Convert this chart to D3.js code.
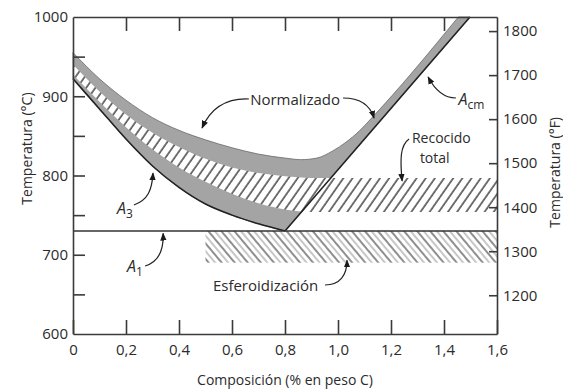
<!DOCTYPE html>
<html>
<head>
<meta charset="utf-8">
<script src="https://cdn.jsdelivr.net/npm/d3@7"></script>
<style>
  body { margin: 0; background: #fff; }
  text { font-family: "Open Sans", sans-serif; fill: #2b2b2b; }
  .axis path, .axis line { stroke: #3a3a3a; stroke-width: 1.6; }
  .axis text { font-size: 15px; fill: #2b2b2b; }
</style>
</head>
<body>
<script>
// composition (% C) vs temperature (°C) curves
const compTicks = [0, 0.2, 0.4, 0.6, 0.8, 1.0, 1.2, 1.4, 1.6];
const tempTicksC = [600, 650, 700, 750, 800, 850, 900, 950, 1000];
const tempTicksF = [1200, 1300, 1400, 1500, 1600, 1700, 1800];

const a3Line = [[0, 922], [0.1, 884], [0.2, 846], [0.3, 812], [0.4, 785], [0.5, 764], [0.6, 750], [0.7, 739], [0.8, 730]];
const acmLine = [[0.8, 730], [1.498, 1000]];
const a1Temp = 730;

// full anneal band (lower / upper edge)
const annealLow = [[0, 927], [0.1, 893], [0.2, 861], [0.3, 833], [0.4, 810], [0.5, 792], [0.6, 777], [0.7, 765], [0.8, 757], [0.9, 754], [1.6, 754]];
const annealHigh = [[0, 940], [0.1, 906], [0.2, 877], [0.3, 854], [0.4, 836], [0.5, 821], [0.6, 810], [0.7, 803], [0.8, 799], [0.9, 797], [1.6, 797]];
// normalizing band upper edge
const normTop = [[0, 955], [0.1, 922], [0.2, 895], [0.3, 873], [0.4, 857], [0.5, 845], [0.6, 835], [0.7, 827], [0.8, 822], [0.86, 820], [0.92, 822], [0.98, 831], [1.03, 842], [1.08, 856], [1.12, 870], [1.454, 1000]];

// spheroidizing band
const spheroComp = [0.5, 1.6];
const spheroTemp = [690, 730];

const width = 563, height = 389;
const margin = {top: 17, right: 66, bottom: 55, left: 73};

const svg = d3.select("body").append("svg")
  .attr("width", width)
  .attr("height", height);

const x = d3.scaleLinear().domain([0, 1.6]).range([margin.left, width - margin.right]);
const y = d3.scaleLinear().domain([600, 1000]).range([height - margin.bottom, margin.top]);
const toF = c => c * 9 / 5 + 32;
const yF = d3.scaleLinear().domain([toF(600), toF(1000)]).range(y.range());

const defs = svg.append("defs");

defs.append("pattern")
  .attr("id", "hatchAnneal")
  .attr("patternUnits", "userSpaceOnUse")
  .attr("width", 7.5).attr("height", 7.5)
  .attr("patternTransform", "rotate(35)")
  .call(p => {
    p.append("rect").attr("width", 7.5).attr("height", 7.5).attr("fill", "#fff");
    p.append("line").attr("x1", 1).attr("x2", 1).attr("y1", 0).attr("y2", 7.5)
      .attr("stroke", "#3a3a3a").attr("stroke-width", 1.4);
  });

defs.append("pattern")
  .attr("id", "hatchSphero")
  .attr("patternUnits", "userSpaceOnUse")
  .attr("width", 10).attr("height", 10)
  .attr("patternTransform", "rotate(-40)")
  .call(p => {
    p.append("rect").attr("width", 10).attr("height", 10).attr("fill", "#fff");
    p.append("line").attr("x1", 1).attr("x2", 1).attr("y1", 0).attr("y2", 10)
      .attr("stroke", "#444").attr("stroke-width", 1.2);
    p.append("line").attr("x1", 6).attr("x2", 6).attr("y1", 0).attr("y2", 10)
      .attr("stroke", "#999").attr("stroke-width", 1.1);
  });

defs.append("marker")
  .attr("id", "arrow")
  .attr("viewBox", "0 0 10 10")
  .attr("refX", 9).attr("refY", 5)
  .attr("markerUnits", "userSpaceOnUse")
  .attr("markerWidth", 8).attr("markerHeight", 8)
  .attr("orient", "auto")
  .append("path")
  .attr("d", "M0,1 L10,5 L0,9 Z")
  .attr("fill", "#1a1a1a");

const line = d3.line().x(d => x(d[0])).y(d => y(d[1])).curve(d3.curveMonotoneX);

// gray region: normalizing band + everything down to A3, bounded by Acm
const grayPath = line(normTop) + "L" + acmLine.slice().reverse().map(d => x(d[0]) + "," + y(d[1])).join("L")
  + "L" + line(a3Line.slice().reverse()).slice(1) + "Z";
svg.append("path")
  .attr("d", grayPath)
  .attr("fill", "#a4a4a4")
  .attr("stroke", "#6a6a6a")
  .attr("stroke-width", 0.8);

// full anneal (hatched) band
const bandArea = d3.area()
  .x(d => x(d[0]))
  .y0(d => y(d[1]))
  .y1((d, i) => y(annealHigh[i][1]))
  .curve(d3.curveMonotoneX);
svg.append("path")
  .attr("d", bandArea(annealLow))
  .attr("fill", "url(#hatchAnneal)");

// spheroidizing band
svg.append("rect")
  .attr("x", x(spheroComp[0]))
  .attr("y", y(spheroTemp[1]))
  .attr("width", x(spheroComp[1]) - x(spheroComp[0]))
  .attr("height", y(spheroTemp[0]) - y(spheroTemp[1]))
  .attr("fill", "url(#hatchSphero)");

// A3, Acm, A1 lines
svg.append("path").attr("d", line(a3Line))
  .attr("fill", "none").attr("stroke", "#222").attr("stroke-width", 1.6);
svg.append("path").attr("d", d3.line().x(d => x(d[0])).y(d => y(d[1]))(acmLine))
  .attr("fill", "none").attr("stroke", "#222").attr("stroke-width", 1.6);
svg.append("line")
  .attr("x1", x(0)).attr("x2", x(1.6))
  .attr("y1", y(a1Temp)).attr("y2", y(a1Temp))
  .attr("stroke", "#333").attr("stroke-width", 1.6);

// axes
const fmtComp = d => d === 0 ? "0" : d3.format(".1f")(d).replace(".", ",");

svg.append("g").attr("class", "axis")
  .attr("transform", `translate(0,${y(600)})`)
  .call(d3.axisBottom(x).tickValues(compTicks).tickFormat(fmtComp)
    .tickSizeInner(-14).tickSizeOuter(0).tickPadding(10));

svg.append("g").attr("class", "axis")
  .attr("transform", `translate(0,${y(1000)})`)
  .call(d3.axisTop(x).tickValues(compTicks.slice(1, -1)).tickFormat("")
    .tickSizeInner(-14).tickSizeOuter(0));

svg.append("g").attr("class", "axis")
  .attr("transform", `translate(${x(0)},0)`)
  .call(d3.axisLeft(y).tickValues(tempTicksC).tickFormat(d => d % 100 === 0 ? d : "")
    .tickSizeInner(-12).tickSizeOuter(0).tickPadding(5))
  .call(g => g.selectAll(".tick").filter(d => d === 600 || d === 1000).select("line").remove());

svg.append("g").attr("class", "axis")
  .attr("transform", `translate(${x(1.6)},0)`)
  .call(d3.axisRight(yF).tickValues(tempTicksF).tickFormat(d3.format("d"))
    .tickSizeInner(-8).tickSizeOuter(0).tickPadding(6));

// axis titles
svg.append("text")
  .attr("x", (x(0) + x(1.6)) / 2).attr("y", 385)
  .attr("text-anchor", "middle").attr("font-size", 14)
  .text("Composición (% en peso C)");

svg.append("text")
  .attr("transform", `translate(32,${y(834)}) rotate(-90)`)
  .attr("text-anchor", "middle").attr("font-size", 14)
  .text("Temperatura (°C)");

svg.append("text")
  .attr("transform", `translate(560,${y(804)}) rotate(-90)`)
  .attr("text-anchor", "middle").attr("font-size", 14)
  .text("Temperatura (°F)");

// annotations, positioned in data units
const arrow = pts => {
  const p = pts.map(d => [x(d[0]), y(d[1])]);
  return `M${p[0]}C${p[1]} ${p[2]} ${p[3]}`;
};
const annotations = [
  [[0.664, 896.5], [0.574, 897.8], [0.517, 882.6], [0.487, 860]],
  [[1.019, 897.8], [1.083, 897.8], [1.121, 889], [1.136, 872.6]],
  [[0.23, 762.8], [0.283, 769], [0.298, 781.7], [0.302, 803]],
  [[0.272, 685.8], [0.321, 690.8], [0.343, 706], [0.34, 727]],
  [[1.445, 897.8], [1.404, 897.8], [1.366, 907.9], [1.34, 924.3]],
  [[1.268, 846], [1.234, 838], [1.234, 819.6], [1.242, 793]],
  [[0.951, 661.8], [1.008, 661.8], [1.034, 674.4], [1.034, 693]]
];
svg.selectAll(".note")
  .data(annotations)
  .join("path")
  .attr("class", "note")
  .attr("d", arrow)
  .attr("fill", "none")
  .attr("stroke", "#222")
  .attr("stroke-width", 1.2)
  .attr("marker-end", "url(#arrow)");

const label = (c, t, txt, size, anchor) => svg.append("text")
  .attr("x", x(c)).attr("y", y(t))
  .attr("text-anchor", anchor || "start")
  .attr("font-size", size)
  .text(txt);

label(0.838, 889, "Normalizado", 15, "middle");
label(1.279, 841, "Recocido", 14);
label(1.309, 816, "total", 14);
label(0.528, 654, "Esferoidización", 15);

const subLabel = (c, t, main, sub) => {
  const txt = svg.append("text")
    .attr("x", x(c)).attr("y", y(t))
    .attr("font-size", 16).attr("font-style", "italic");
  txt.append("tspan").text(main);
  txt.append("tspan").attr("dy", 4).attr("font-size", 12)
    .attr("font-style", "normal").attr("fill", "#2b2b2b").text(sub);
};
subLabel(0.166, 751, "A", "3");
subLabel(0.204, 678, "A", "1");
subLabel(1.455, 889, "A", "cm");
</script>
</body>
</html>
